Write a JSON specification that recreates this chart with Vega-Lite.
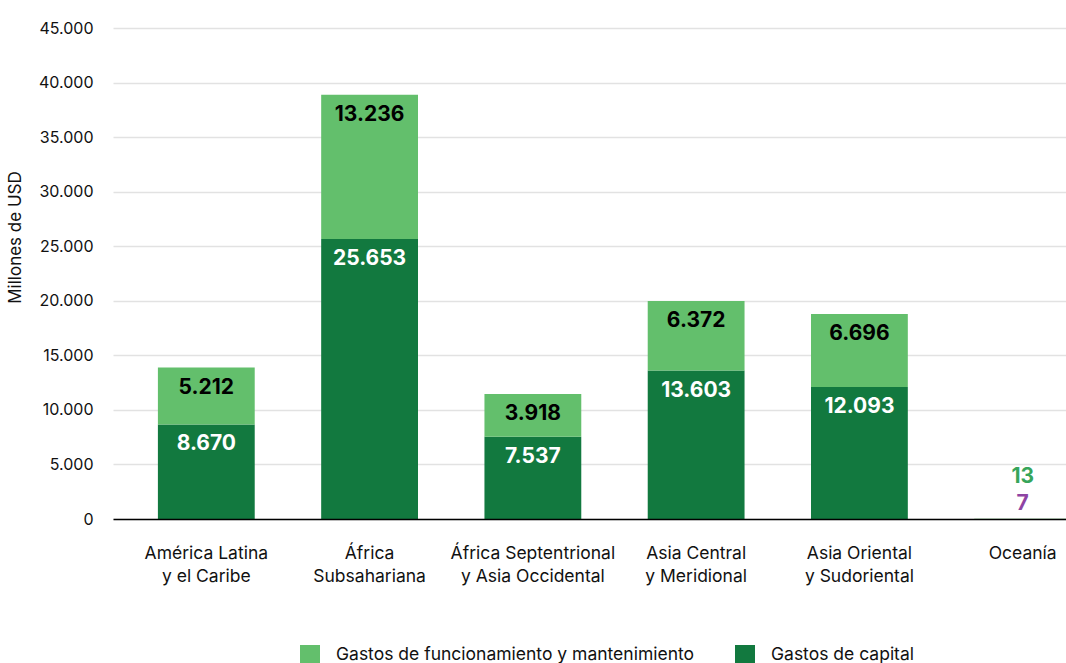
{
  "$schema": "https://vega.github.io/schema/vega-lite/v6.json",
  "autosize": "none",
  "width": 1003,
  "height": 491,
  "padding": {"left": 113, "top": 28, "right": 0, "bottom": 144},
  "background": "white",
  "config": {
    "locale": {"number": {"decimal": ",", "thousands": ".", "grouping": [3], "currency": ["", ""]}},
    "font": "Inter",
    "view": {"stroke": null}
  },
  "data": {
    "values": [
      {"region": "América Latina|y el Caribe", "type": "Gastos de capital", "value": 8670},
      {"region": "América Latina|y el Caribe", "type": "Gastos de funcionamiento y mantenimiento", "value": 5212},
      {"region": "África|Subsahariana", "type": "Gastos de capital", "value": 25653},
      {"region": "África|Subsahariana", "type": "Gastos de funcionamiento y mantenimiento", "value": 13236},
      {"region": "África Septentrional|y Asia Occidental", "type": "Gastos de capital", "value": 7537},
      {"region": "África Septentrional|y Asia Occidental", "type": "Gastos de funcionamiento y mantenimiento", "value": 3918},
      {"region": "Asia Central|y Meridional", "type": "Gastos de capital", "value": 13603},
      {"region": "Asia Central|y Meridional", "type": "Gastos de funcionamiento y mantenimiento", "value": 6372},
      {"region": "Asia Oriental|y Sudoriental", "type": "Gastos de capital", "value": 12093},
      {"region": "Asia Oriental|y Sudoriental", "type": "Gastos de funcionamiento y mantenimiento", "value": 6696},
      {"region": "Oceanía", "type": "Gastos de capital", "value": 7},
      {"region": "Oceanía", "type": "Gastos de funcionamiento y mantenimiento", "value": 13}
    ]
  },
  "transform": [
    {"stack": "value", "groupby": ["region"], "sort": [{"field": "type", "order": "ascending"}], "as": ["v0", "v1"]}
  ],
  "encoding": {
    "x": {
      "field": "region",
      "type": "nominal",
      "sort": null,
      "scale": {"paddingInner": 0.407, "paddingOuter": 0.275},
      "axis": {
        "title": null,
        "labelAngle": 0,
        "labelExpr": "split(datum.label, '|')",
        "labelFont": "Inter",
        "labelFontSize": 17.5,
        "labelColor": "#111111",
        "labelLineHeight": 23,
        "labelPadding": 25,
        "labelBaseline": "top",
        "ticks": false,
        "domain": true,
        "domainColor": "#000000",
        "domainWidth": 1.5,
        "grid": false,
        "zindex": 2
      }
    }
  },
  "layer": [
    {
      "mark": {"type": "bar"},
      "encoding": {
        "y": {
          "field": "v1",
          "type": "quantitative",
          "scale": {"domain": [0, 45000]},
          "axis": {
            "title": "Millones de USD",
            "titleFont": "Inter",
            "titleFontSize": 17,
            "titleFontWeight": "normal",
            "titleColor": "#111111",
            "titlePadding": 14,
            "titleY": 209,
            "values": [0, 5000, 10000, 15000, 20000, 25000, 30000, 35000, 40000, 45000],
            "format": ",d",
            "labelFont": "Inter",
            "labelFontSize": 16,
            "labelColor": "#111111",
            "labelPadding": 20,
            "ticks": false,
            "domain": false,
            "grid": true,
            "gridColor": "#e2e2e2",
            "gridWidth": 1.5,
            "zindex": 0
          }
        },
        "y2": {"field": "v0"},
        "color": {
          "field": "type",
          "type": "nominal",
          "scale": {
            "domain": ["Gastos de funcionamiento y mantenimiento", "Gastos de capital"],
            "range": ["#63bf6c", "#12793f"]
          },
          "legend": {
            "title": null,
            "orient": "none",
            "direction": "horizontal",
            "legendX": 187,
            "legendY": 617,
            "symbolType": "square",
            "symbolSize": 400,
            "symbolStrokeWidth": 0,
            "symbolOpacity": 1,
            "labelFont": "Inter",
            "labelFontSize": 17.5,
            "labelColor": "#111111",
            "labelOffset": 16,
            "columnPadding": 40,
            "labelLimit": 500
          }
        }
      }
    },
    {
      "transform": [{"filter": "datum.region != 'Oceanía'"}],
      "mark": {"type": "text", "dy": 20, "fontSize": 21, "fontWeight": "bold", "font": "Inter", "baseline": "middle"},
      "encoding": {
        "y": {"field": "v1", "type": "quantitative"},
        "text": {"field": "value", "type": "quantitative", "format": ",d"},
        "color": {"condition": {"test": "datum.type == 'Gastos de capital'", "value": "#ffffff"}, "value": "#000000"}
      }
    },
    {
      "transform": [{"filter": "datum.region == 'Oceanía' && datum.type == 'Gastos de capital'"}],
      "mark": {"type": "text", "dy": -15, "fontSize": 21, "fontWeight": "bold", "font": "Inter", "baseline": "middle", "color": "#8e44a3"},
      "encoding": {
        "y": {"field": "v0", "type": "quantitative"},
        "text": {"field": "value", "type": "quantitative", "format": ",d"}
      }
    },
    {
      "transform": [{"filter": "datum.region == 'Oceanía' && datum.type == 'Gastos de funcionamiento y mantenimiento'"}],
      "mark": {"type": "text", "dy": -42, "fontSize": 21, "fontWeight": "bold", "font": "Inter", "baseline": "middle", "color": "#36a55a"},
      "encoding": {
        "y": {"field": "v0", "type": "quantitative"},
        "text": {"field": "value", "type": "quantitative", "format": ",d"}
      }
    }
  ]
}
